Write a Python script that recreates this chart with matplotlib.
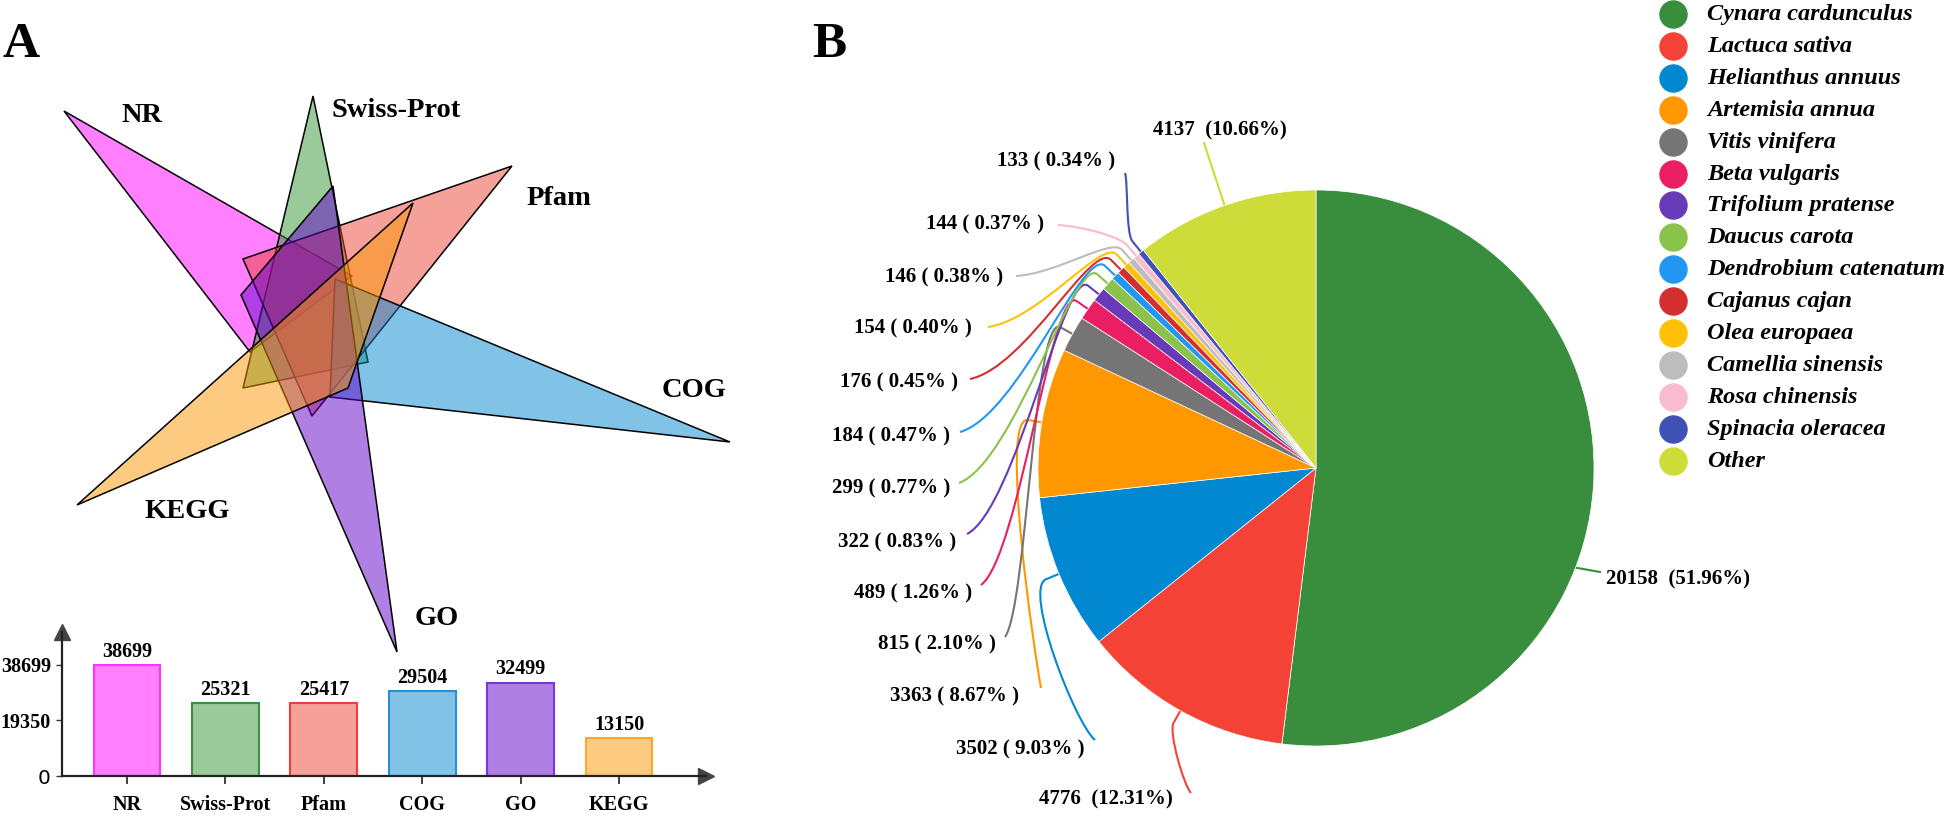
import numpy as np
import matplotlib
matplotlib.use('Agg')
import matplotlib.pyplot as plt
from matplotlib.patches import Polygon, PathPatch
from matplotlib.path import Path
from matplotlib.colors import to_rgba

W, H = 1944, 817
SERIF = ['Liberation Serif', 'DejaVu Serif']

# ---------------- Panel A data ----------------
databases = ['NR', 'Swiss-Prot', 'Pfam', 'COG', 'GO', 'KEGG']
db_counts = [38699, 25321, 25417, 29504, 32499, 13150]
db_colors = ['#FF00FF', '#379637', '#EF4237', '#0388D0', '#6200CA', '#FB9702']
bar_edge_colors = ['#FF33FF', '#3C8F3C', '#F03C3C', '#2390DA', '#7F33DB', '#FFA726']
ytick_values = [0, 19350, 38699]
ytick_labels = ['0', '19350', '38699']

# ---------------- Panel B data ----------------
species = ['Cynara cardunculus', 'Lactuca sativa', 'Helianthus annuus', 'Artemisia annua',
           'Vitis vinifera', 'Beta vulgaris', 'Trifolium pratense', 'Daucus carota',
           'Dendrobium catenatum', 'Cajanus cajan', 'Olea europaea', 'Camellia sinensis',
           'Rosa chinensis', 'Spinacia oleracea', 'Other']
species_counts = [20158, 4776, 3502, 3363, 815, 489, 322, 299, 184, 176, 154, 146, 144, 133, 4137]
species_colors = ['#388E3C', '#F44336', '#0288D1', '#FF9800', '#757575', '#E91E63', '#673AB7',
                  '#8BC34A', '#2196F3', '#D32F2F', '#FFC107', '#BDBDBD', '#F8BBD0', '#3F51B5',
                  '#CDDC39']

# ---------------- layout (pixel geometry) ----------------
VENN_TRIANGLES = [
    [(64, 111), (352, 276), (250, 352)],      # NR
    [(313, 96), (243, 388), (368, 362)],      # Swiss-Prot
    [(512, 166), (243, 259), (312, 416)],     # Pfam
    [(730, 442), (335, 279), (330, 397)],     # COG
    [(333, 186), (241, 295), (397, 652)],     # GO
    [(77, 505), (413, 203), (348, 388)],      # KEGG
]
# label centre x, baseline y
VENN_LABEL_POS = [(142, 122), (396, 117), (559, 205), (694, 397), (437, 625), (187, 518)]

# pie label: (text x, text centre y, leader anchor x, anchor y)
PIE_LABEL_LAYOUT = [
    (1606, 578, 1600, 572),   # Cynara (left aligned)
    (1173, 798, 1191, 793),
    (1084, 748, 1095, 740),
    (1019, 695, 1041, 688),
    (996, 643, 1005, 637),
    (972, 592, 981, 585),
    (956, 541, 967, 534),
    (950, 487, 959, 483),
    (950, 435, 960, 432),
    (958, 381, 970, 379),
    (972, 327, 988, 327),
    (1003, 276, 1016, 276),
    (1044, 223, 1058, 225),
    (1115, 160, 1125, 173),
    (1153, 129, 1204, 143),   # Other (left aligned)
]

fig = plt.figure(figsize=(W / 100, H / 100), dpi=100)
ax = fig.add_axes([0, 0, 1, 1])
ax.set_xlim(0, W)
ax.set_ylim(H, 0)
ax.axis('off')

# panel letters
ax.text(2, 57, 'A', fontsize=37, fontweight='bold', family=SERIF, va='baseline', ha='left')
ax.text(812, 57, 'B', fontsize=37, fontweight='bold', family=SERIF, va='baseline', ha='left')

# ---------------- Venn of triangles ----------------
for tri, col in zip(VENN_TRIANGLES, db_colors):
    ax.add_patch(Polygon(tri, closed=True, facecolor=to_rgba(col, 0.5),
                         edgecolor='black', linewidth=1.1, zorder=2))
for (x, y), name in zip(VENN_LABEL_POS, databases):
    ax.text(x, y, name, fontsize=20.5, fontweight='bold', family=SERIF,
            ha='center', va='baseline', zorder=5)

# ---------------- Bar chart ----------------
axis_x0, axis_y0 = 62, 776
px_per_unit = (776 - 665) / 38699.0
bar_spacing = 98.4
first_center = 127
top_px = 632
right_px = 706
bax = fig.add_axes([axis_x0 / W, (H - axis_y0) / H,
                    (right_px - axis_x0) / W, (axis_y0 - top_px) / H])
bax.set_ylim(0, (axis_y0 - top_px) / px_per_unit)
bax.set_xlim((axis_x0 - first_center) / bar_spacing, (right_px - first_center) / bar_spacing)
xpos = np.arange(len(databases))
fills = [to_rgba(c, 0.5) for c in db_colors]
bars = bax.bar(xpos, db_counts, width=0.68, color=fills, edgecolor=bar_edge_colors, linewidth=1.5)
for b, v in zip(bars, db_counts):
    bax.annotate(str(v), (b.get_x() + b.get_width() / 2, v), xytext=(0, 6),
                 textcoords='offset points', ha='center', va='baseline',
                 fontsize=14.5, fontweight='bold', family=SERIF)
for s in ['top', 'right']:
    bax.spines[s].set_visible(False)
for s in ['left', 'bottom']:
    bax.spines[s].set_linewidth(1.6)
    bax.spines[s].set_color('#222222')
bax.set_xticks(xpos)
bax.set_xticklabels(databases, fontsize=14.5, fontweight='bold', family=SERIF)
bax.set_yticks(ytick_values)
bax.set_yticklabels(ytick_labels, fontsize=14.5, fontweight='bold', family=SERIF)
bax.get_yticklabels()[0].set_fontweight('normal')
bax.get_yticklabels()[0].set_family('DejaVu Sans')
bax.tick_params(axis='x', length=6, width=1.3, pad=8, color='#333333')
bax.tick_params(axis='y', length=4, width=1.0, pad=4, color='#333333')
bax.patch.set_alpha(0)
bax.plot([0], [1], marker='^', markersize=12, color='#444444', transform=bax.transAxes, clip_on=False)
bax.plot([1], [0], marker='>', markersize=12, color='#444444', transform=bax.transAxes, clip_on=False)

# ---------------- Pie chart ----------------
cx, cy, R = 1316, 468, 278
pax = fig.add_axes([(cx - R) / W, (H - cy - R) / H, 2 * R / W, 2 * R / H])
wedges, _ = pax.pie(species_counts, colors=species_colors, startangle=90, counterclock=False,
                    radius=1, wedgeprops=dict(edgecolor='white', linewidth=0.5))
pax.set_xlim(-1, 1)
pax.set_ylim(-1, 1)
pax.set_aspect('auto')

total = float(sum(species_counts))
inv = ax.transData.inverted()


def to_px(pt):
    return inv.transform(pax.transData.transform(pt))


LABEL_KW = dict(fontsize=15, fontweight='bold', family=SERIF, va='baseline')
for i, (w, cnt, col) in enumerate(zip(wedges, species_counts, species_colors)):
    pct = 100 * cnt / total
    if pct >= 10:
        lab = f'{cnt}  ({pct:.2f}%)'
    else:
        lab = f'{cnt} ( {pct:.2f}% )'
    tx, ty, axp, ayp = PIE_LABEL_LAYOUT[i]
    th = np.deg2rad((w.theta1 + w.theta2) / 2)
    if i == 0:
        th = np.deg2rad(-21)
    E = to_px((np.cos(th), np.sin(th)))
    Q = to_px((1.05 * np.cos(th), 1.05 * np.sin(th)))
    A = np.array([axp, ayp])
    if i == 0 or i == len(wedges) - 1:
        ax.plot([E[0], A[0]], [E[1], A[1]], color=col, lw=1.5, zorder=6)
        ax.text(tx, ty + 6, lab, ha='left', **LABEL_KW)
        continue
    out = (Q - E) / np.linalg.norm(Q - E)
    d = np.linalg.norm(Q - A)
    C1 = A + np.array([0.4 * (Q[0] - A[0]), 0.1 * (Q[1] - A[1])])
    C2 = Q + out * min(30.0, 0.15 * d)
    path = Path([A, C1, C2, Q, E], [Path.MOVETO, Path.CURVE4, Path.CURVE4, Path.CURVE4, Path.LINETO])
    ax.add_patch(PathPatch(path, facecolor='none', edgecolor=col, lw=1.5, zorder=6))
    ax.text(tx, ty + 6, lab, ha='right', **LABEL_KW)

# ---------------- Legend ----------------
leg_x = 1673
leg_y0, leg_dy = 14, 31.9
for k, (name, col) in enumerate(zip(species, species_colors)):
    y = leg_y0 + k * leg_dy
    ax.scatter([leg_x], [y], s=380, color=col, zorder=6)
    ax.text(1707, y + 6, name, fontsize=17.5, fontweight='bold', fontstyle='italic',
            family=SERIF, ha='left', va='baseline')

fig.savefig('out.png', dpi=100)
